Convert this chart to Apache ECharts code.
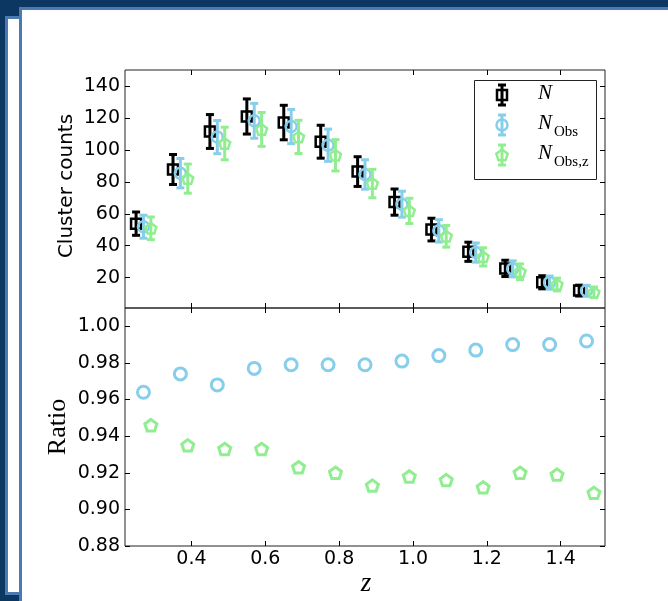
<!DOCTYPE html>
<html>
<head>
<meta charset="utf-8">
<script src="https://cdn.jsdelivr.net/npm/echarts@6/dist/echarts.min.js"></script>
<style>
  html, body { margin: 0; padding: 0; background: #0c3762; }
  #chart { width: 668px; height: 601px; }
</style>
</head>
<body>
<div id="chart"></div>
<script>
// Redshift positions of the three samples (slightly staggered per bin)
const zN     = [0.25, 0.35, 0.45, 0.55, 0.65, 0.75, 0.85, 0.95, 1.05, 1.15, 1.25, 1.35, 1.45];
const zObs   = [0.27, 0.37, 0.47, 0.57, 0.67, 0.77, 0.87, 0.97, 1.07, 1.17, 1.27, 1.37, 1.47];
const zObsZ  = [0.29, 0.39, 0.49, 0.59, 0.69, 0.79, 0.89, 0.99, 1.09, 1.19, 1.29, 1.39, 1.49];

// Cluster counts and their errors
const countN       = [53.8, 87.7, 111.5, 120.9, 117.1, 105.1, 86.4, 67.3, 50.1, 36.2, 25.8, 17.1, 11.9];
const errN         = [7.3, 9.4, 10.6, 11.0, 10.8, 10.3, 9.3, 8.2, 7.1, 6.0, 5.1, 4.1, 3.4];
const countObs     = [51.9, 85.4, 108.0, 118.2, 114.6, 102.9, 84.6, 66.0, 49.3, 35.7, 25.5, 16.9, 11.8];
const errObs       = [7.2, 9.2, 10.4, 10.9, 10.7, 10.1, 9.2, 8.1, 7.0, 6.0, 5.0, 4.1, 3.4];
const countObsZ    = [50.9, 82.0, 104.0, 112.8, 108.1, 96.6, 78.9, 61.8, 45.9, 33.0, 23.7, 15.7, 10.8];
const errObsZ      = [7.1, 9.1, 10.2, 10.6, 10.4, 9.8, 8.9, 7.9, 6.8, 5.7, 4.9, 4.0, 3.3];

// Ratios relative to N
const ratioObs  = [0.964, 0.974, 0.968, 0.977, 0.979, 0.979, 0.979, 0.981, 0.984, 0.987, 0.990, 0.990, 0.992];
const ratioObsZ = [0.946, 0.935, 0.933, 0.933, 0.923, 0.920, 0.913, 0.918, 0.916, 0.912, 0.920, 0.919, 0.909];

// Tick labels
const xTicks      = [0.4, 0.6, 0.8, 1.0, 1.2, 1.4];
const countTicks  = [20, 40, 60, 80, 100, 120, 140];
const ratioTicks  = [0.88, 0.90, 0.92, 0.94, 0.96, 0.98, 1.00];

const BLACK = '#000000';
const BLUE  = '#87ceeb';
const GREEN = '#90ee90';
const PENTAGON = 'path://M0,-1L0.951,-0.309L0.588,0.809L-0.588,0.809L-0.951,-0.309Z';
const TICK_FONT = { fontFamily: 'DejaVu Sans', fontSize: 19, color: '#000' };

function axis(kind, gridIndex, position, min, max, ticks, showLabels, digits) {
  return {
    type: 'value', gridIndex, position, min, max,
    axisLine: { show: false },
    splitLine: { show: false },
    axisTick: { show: true, inside: true, length: 5, customValues: ticks,
                lineStyle: { color: '#000', width: 1 } },
    axisLabel: Object.assign({ show: showLabels, customValues: ticks,
                margin: kind === 'x' ? 4 : 5,
                formatter: v => Number(v).toFixed(digits) }, TICK_FONT)
  };
}

function errorBars(data, color, xi, yi, z) {
  return {
    type: 'custom', xAxisIndex: xi, yAxisIndex: yi, z, silent: true,
    data,
    renderItem(params, api) {
      const x = api.value(0), y = api.value(1), e = api.value(2);
      const hi = api.coord([x, y + e]), lo = api.coord([x, y - e]);
      const w = 4, st = { stroke: color, lineWidth: 3 };
      return { type: 'group', children: [
        { type: 'line', shape: { x1: hi[0], y1: hi[1], x2: lo[0], y2: lo[1] }, style: st },
        { type: 'line', shape: { x1: hi[0] - w, y1: hi[1], x2: hi[0] + w, y2: hi[1] }, style: st },
        { type: 'line', shape: { x1: lo[0] - w, y1: lo[1], x2: lo[0] + w, y2: lo[1] }, style: st }
      ]};
    }
  };
}

function markers(data, color, symbol, size, bw, xi, yi, z) {
  return {
    type: 'scatter', xAxisIndex: xi, yAxisIndex: yi, z, silent: true,
    symbol, symbolSize: size, symbolKeepAspect: true,
    itemStyle: { color: 'rgba(0,0,0,0)', borderColor: color, borderWidth: bw, opacity: 1 },
    data
  };
}

const zip3 = (a, b, c) => a.map((v, i) => [v, b[i], c[i]]);
const zip2 = (a, b) => a.map((v, i) => [v, b[i]]);

// Legend drawing helpers
function legendBar(cx, cy, color) {
  const st = { stroke: color, lineWidth: 3 };
  return [
    { type: 'line', shape: { x1: cx, y1: cy - 10, x2: cx, y2: cy + 10 }, style: st, z: 20 },
    { type: 'line', shape: { x1: cx - 4, y1: cy - 10, x2: cx + 4, y2: cy - 10 }, style: st, z: 20 },
    { type: 'line', shape: { x1: cx - 4, y1: cy + 10, x2: cx + 4, y2: cy + 10 }, style: st, z: 20 }
  ];
}
function pentagonPts(cx, cy, r) {
  const pts = [];
  for (let k = 0; k < 5; k++) {
    const a = -Math.PI / 2 + k * 2 * Math.PI / 5;
    pts.push([cx + r * Math.cos(a), cy + r * Math.sin(a)]);
  }
  return pts;
}
function legendLabel(x, y, sub) {
  const items = [{ type: 'text', x, y, z: 20,
    style: { text: 'N', font: 'italic 21px "Liberation Serif"', fill: '#000', verticalAlign: 'bottom' } }];
  if (sub) items.push({ type: 'text', x: x + 16, y: y + 6, z: 20,
    style: { text: sub, font: '15px "Liberation Serif"', fill: '#000', verticalAlign: 'bottom' } });
  return items;
}

const LX = 502, rows = [95, 125, 155];
const graphics = [
  // page frame
  { type: 'rect', z: -10, shape: { x: 6.5, y: 17.5, width: 14, height: 576 },
    style: { fill: '#ffffff', stroke: '#4a7ab0', lineWidth: 3 } },
  { type: 'rect', z: -10, shape: { x: 20.5, y: 8.5, width: 700, height: 700 },
    style: { fill: '#ffffff', stroke: '#4a7ab0', lineWidth: 3 } },
  // axis titles
  { type: 'text', x: 67, y: 186, rotation: Math.PI / 2,
    style: { text: 'Cluster counts', font: '20px "DejaVu Sans"', fill: '#000', align: 'center', verticalAlign: 'middle' } },
  { type: 'text', x: 58, y: 427, rotation: Math.PI / 2,
    style: { text: 'Ratio', font: '26px "Liberation Serif"', fill: '#000', align: 'center', verticalAlign: 'middle' } },
  { type: 'text', x: 366, y: 584,
    style: { text: 'z', font: 'italic 27px "Liberation Serif"', fill: '#000', align: 'center', verticalAlign: 'middle' } },
  // legend box
  { type: 'rect', z: 19, shape: { x: 474.5, y: 80.5, width: 122, height: 99 },
    style: { fill: '#ffffff', stroke: '#222', lineWidth: 1 } },
  ...legendBar(LX, rows[0], BLACK),
  { type: 'rect', z: 21, shape: { x: LX - 5, y: rows[0] - 5, width: 10, height: 10 },
    style: { fill: 'none', stroke: BLACK, lineWidth: 2.5 } },
  ...legendBar(LX, rows[1], BLUE),
  { type: 'circle', z: 21, shape: { cx: LX, cy: rows[1], r: 5.5 },
    style: { fill: 'none', stroke: BLUE, lineWidth: 2.5 } },
  ...legendBar(LX, rows[2], GREEN),
  { type: 'polygon', z: 21, shape: { points: pentagonPts(LX, rows[2] + 0.5, 6 ) },
    style: { fill: 'none', stroke: GREEN, lineWidth: 2.5 } },
  ...legendLabel(538, rows[0] + 9, null),
  ...legendLabel(538, rows[1] + 9, 'Obs'),
  ...legendLabel(538, rows[2] + 9, 'Obs,z')
];

const option = {
  backgroundColor: '#0c3762',
  animation: false,
  grid: [
    { left: 125, top: 70, width: 480, height: 238, show: true, borderColor: '#222', borderWidth: 1, backgroundColor: 'rgba(0,0,0,0)' },
    { left: 125, top: 308, width: 480, height: 238, show: true, borderColor: '#222', borderWidth: 1, backgroundColor: 'rgba(0,0,0,0)' }
  ],
  xAxis: [
    axis('x', 0, 'bottom', 0.22, 1.52, xTicks, false, 1),
    axis('x', 0, 'top',    0.22, 1.52, xTicks, false, 1),
    axis('x', 1, 'bottom', 0.22, 1.52, xTicks, true, 1),
    axis('x', 1, 'top',    0.22, 1.52, xTicks, false, 1)
  ],
  yAxis: [
    axis('y', 0, 'left',  1, 150, countTicks, true, 0),
    axis('y', 0, 'right', 1, 150, countTicks, false, 0),
    axis('y', 1, 'left',  0.88, 1.01, ratioTicks, true, 2),
    axis('y', 1, 'right', 0.88, 1.01, ratioTicks, false, 2)
  ],
  graphic: graphics,
  series: [
    errorBars(zip3(zN, countN, errN), BLACK, 0, 0, 2),
    markers(zip2(zN, countN), BLACK, 'rect', 10, 2.5, 0, 0, 3),
    errorBars(zip3(zObs, countObs, errObs), BLUE, 0, 0, 4),
    markers(zip2(zObs, countObs), BLUE, 'circle', 11, 2.5, 0, 0, 5),
    errorBars(zip3(zObsZ, countObsZ, errObsZ), GREEN, 0, 0, 6),
    markers(zip2(zObsZ, countObsZ), GREEN, PENTAGON, 11, 2.5, 0, 0, 7),
    markers(zip2(zObs, ratioObs), BLUE, 'circle', 12, 3, 2, 2, 5),
    markers(zip2(zObsZ, ratioObsZ), GREEN, PENTAGON, 12, 3, 2, 2, 7)
  ]
};

const chart = echarts.init(document.getElementById('chart'), null, { renderer: 'canvas' });
chart.setOption(option);
</script>
</body>
</html>
